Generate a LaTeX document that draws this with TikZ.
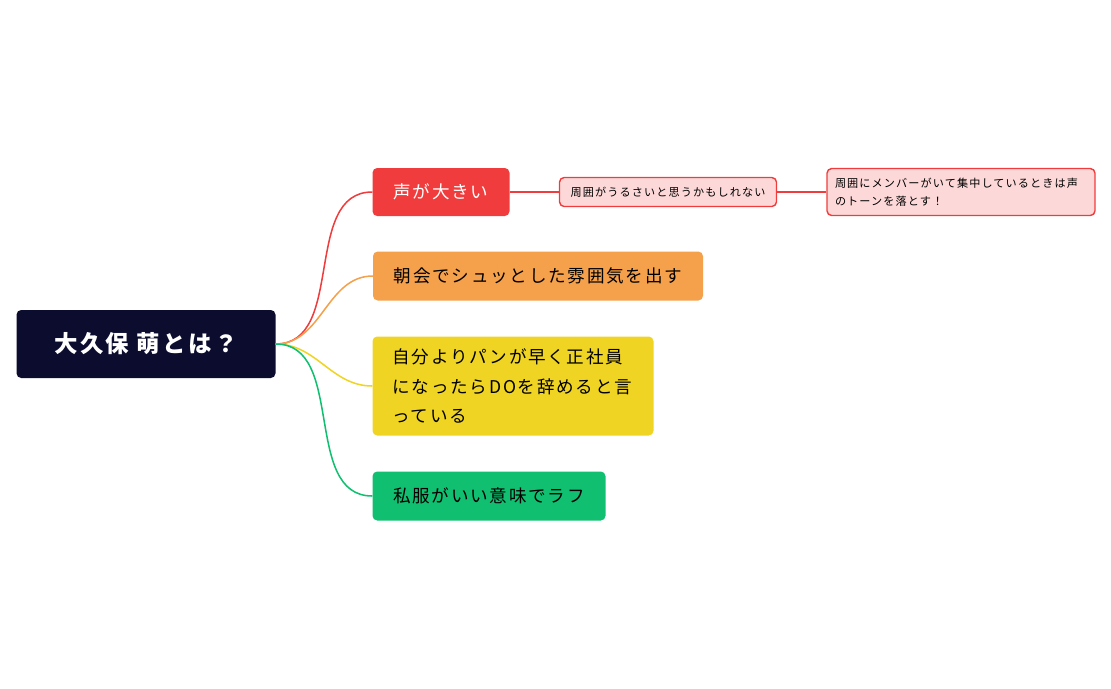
\documentclass[tikz,border=0pt]{standalone}
\usepackage{fontspec}
\newfontfamily\cjk[LetterSpace=10]{Noto Sans CJK JP}
\usetikzlibrary{positioning}
\definecolor{navy}{HTML}{0B0C2E}
\definecolor{cred}{HTML}{F03C3C}
\definecolor{corange}{HTML}{F5A04A}
\definecolor{cyellow}{HTML}{F0D424}
\definecolor{cgreen}{HTML}{10C070}
\definecolor{cpink}{HTML}{FDD8D8}
\begin{document}
\begin{tikzpicture}[x=0.03cm,y=-0.03cm,font=\cjk\fontsize{15}{20}\selectfont,
  topic/.style={rounded corners=4pt,inner sep=0pt,anchor=center},
  sub/.style={topic,draw=cred,line width=1.2pt,fill=cpink,font=\cjk\fontsize{9.5}{15}\selectfont,text=black}]
        % Canvas
        \useasboundingbox (0,0) rectangle (1111,688);

        % Root
        \node[topic,fill=navy,text=white,font=\cjk\fontsize{20}{24}\selectfont\bfseries,minimum width=259*0.03cm,minimum height=68*0.03cm] (root) at (146,344) {大久保 萌とは？};

        % Branches
        \node[topic,fill=cred,text=white,minimum width=137*0.03cm,minimum height=48*0.03cm] (loud) at (441,192) {声が大きい};
        \node[topic,fill=corange,minimum width=330*0.03cm,minimum height=49*0.03cm] (mood) at (538,276) {朝会でシュッとした雰囲気を出す};
        \node[topic,fill=cyellow,minimum width=281*0.03cm,minimum height=99*0.03cm,align=left,text width=241*0.03cm,font=\cjk\fontsize{15}{25}\selectfont] (quit) at (513,386) {自分よりパンが早く正社員\\になったらDOを辞めると言\\っている};
        \node[topic,fill=cgreen,minimum width=233*0.03cm,minimum height=49*0.03cm] (cloth) at (489,496) {私服がいい意味でラフ};

        % Sub topics
        \node[sub,minimum width=217*0.03cm,minimum height=29*0.03cm] (noisy) at (668,192) {周囲がうるさいと思うかもしれない};
        \node[sub,minimum width=268*0.03cm,minimum height=47*0.03cm,align=left,text width=252*0.03cm] (tone) at (961,192) {周囲にメンバーがいて集中しているときは声\\のトーンを落とす！};

        % Connectors
        \draw[cred,line width=1.3pt] (root.east) to[out=0,in=180] (loud.west);
        \draw[corange,line width=1.3pt] (root.east) to[out=0,in=180] (mood.west);
        \draw[cyellow,line width=1.3pt] (root.east) to[out=0,in=180] (quit.west);
        \draw[cgreen,line width=1.3pt] (root.east) to[out=0,in=180] (cloth.west);
        \draw[cred,line width=1.3pt] (loud.east) -- (noisy.west);
        \draw[cred,line width=1.3pt] (noisy.east) -- (tone.west);
    \end{tikzpicture}
\end{document}
